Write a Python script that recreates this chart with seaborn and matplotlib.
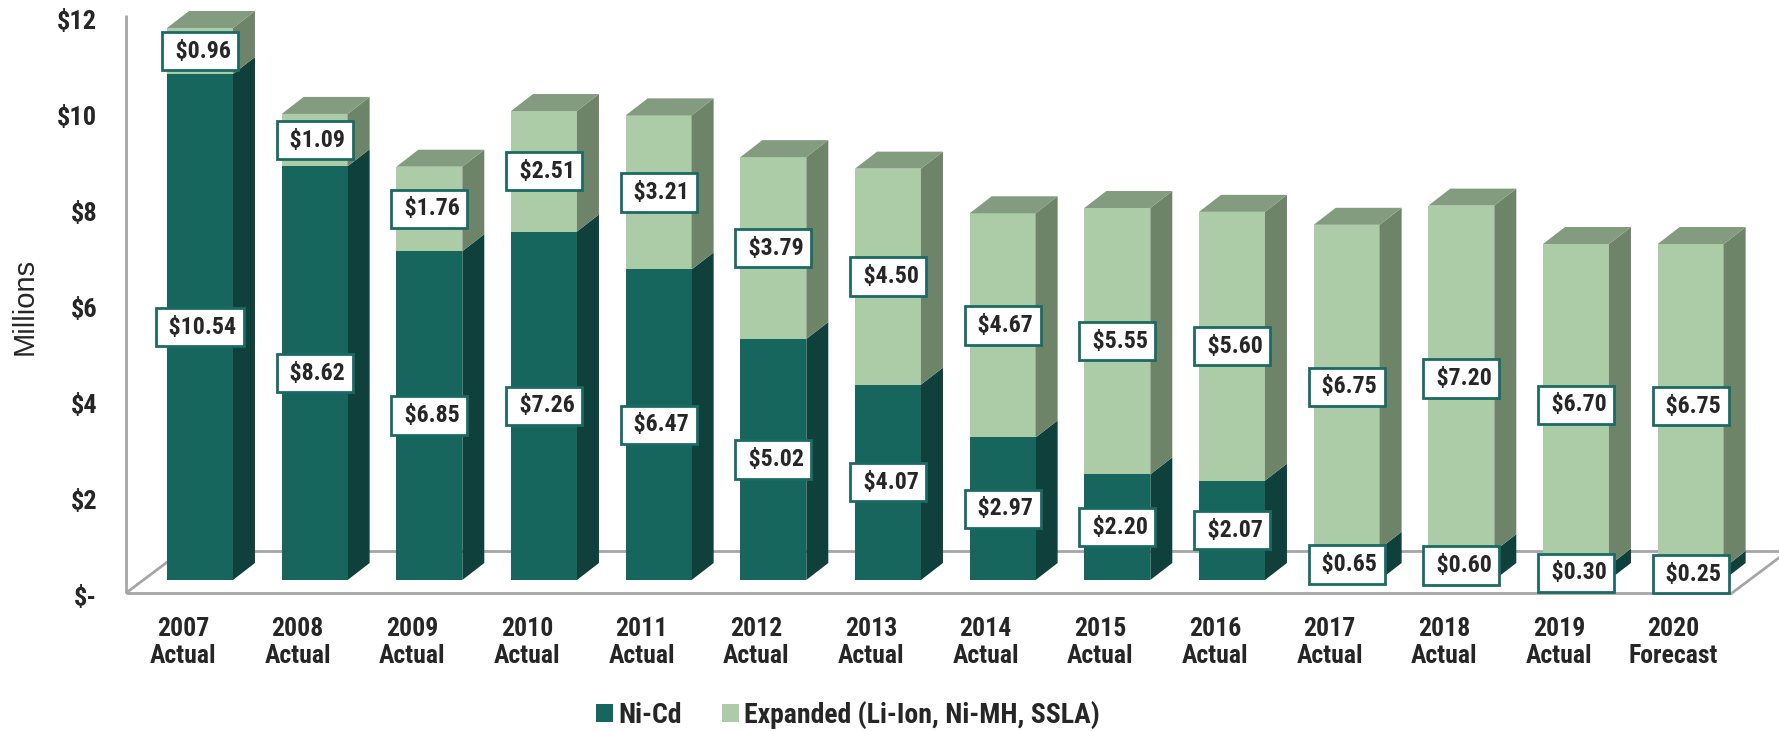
import numpy as np
import pandas as pd
import matplotlib
matplotlib.use("Agg")
import matplotlib.pyplot as plt
import seaborn as sns
from matplotlib.patches import Polygon, Patch
from matplotlib.lines import Line2D
from matplotlib.transforms import ScaledTranslation
from matplotlib import font_manager as fm

# ---------------- data ----------------
years = ["2007", "2008", "2009", "2010", "2011", "2012", "2013",
         "2014", "2015", "2016", "2017", "2018", "2019", "2020"]
kinds = ["Actual"] * 13 + ["Forecast"]
nicd = [10.54, 8.62, 6.85, 7.26, 6.47, 5.02, 4.07, 2.97, 2.20, 2.07, 0.65, 0.60, 0.30, 0.25]
expanded = [0.96, 1.09, 1.76, 2.51, 3.21, 3.79, 4.50, 4.67, 5.55, 5.60, 6.75, 7.20, 6.70, 6.75]
series_names = ["Ni-Cd", "Expanded (Li-Ion, Ni-MH, SSLA)"]
ytick_values = [0, 2, 4, 6, 8, 10, 12]
ytick_labels = ["$-", "$2", "$4", "$6", "$8", "$10", "$12"]
y_title = "Millions"

# ---------------- style ----------------
TEAL = "#17665E"
TEAL_SIDE = "#0F403B"
LIGHT = "#ABCCA7"
LIGHT_SIDE = "#6E8468"
LIGHT_TOP = "#839B7E"
BOX_EDGE = "#1B6B64"
FRAME = "#A6A6A6"

sns.set_theme(style="white")
plt.rcParams["font.family"] = ["Liberation Sans", "DejaVu Sans"]

# pick a narrow bold font if one is installed
ttf = fm.fontManager.ttflist
names = {f.name for f in ttf}
NARROW = None
STRETCH = "normal"
SCALE = 1.0
for cand in ["Liberation Sans Narrow", "Arial Narrow", "Roboto Condensed",
             "Noto Sans Condensed", "Open Sans Condensed"]:
    if cand in names:
        NARROW = cand
        break
if NARROW is None:
    for fam in ["Noto Sans", "Roboto", "Open Sans", "Liberation Sans"]:
        if any(f.name == fam and f.stretch in ("condensed", "semi-condensed", 500, 400, 300)
               and f.stretch != "normal" for f in ttf):
            NARROW = fam
            STRETCH = "condensed"
            break
if NARROW is None:
    NARROW = "Liberation Sans"
    SCALE = 0.88
NFAM = [NARROW, "DejaVu Sans"]

def nfont(size):
    return dict(family=NFAM, fontweight="bold", fontstretch=STRETCH, fontsize=size * SCALE)

categories = [f"{y}\n{k}" for y, k in zip(years, kinds)]
total = [a + b for a, b in zip(nicd, expanded)]
df = pd.DataFrame({"category": categories, "Ni-Cd": nicd, "Total": total})

W, H = 1779, 731
fig = plt.figure(figsize=(W / 100, H / 100), dpi=100)
ax = fig.add_axes([114 / W, 127 / H, 1634 / W, 600 / H])

BAR_W = 0.575
sns.barplot(data=df, x="category", y="Total", color=LIGHT, saturation=1, width=BAR_W,
            errorbar=None, linewidth=0, ax=ax, zorder=2)
sns.barplot(data=df, x="category", y="Ni-Cd", color=TEAL, saturation=1, width=BAR_W,
            errorbar=None, linewidth=0, ax=ax, zorder=3)

XMIN, XMAX, YMIN, YMAX = -0.75, 13.5, -0.5, 12.0
ax.set_xlim(XMIN, XMAX)
ax.set_ylim(YMIN, YMAX)

# pixel -> data conversion for the 3D depth
px_x = 1634 / (XMAX - XMIN)
px_y = 600 / (YMAX - YMIN)
DX, DY = 22 / px_x, 17 / px_y

n = len(categories)
total_patches = ax.patches[:n]
nicd_patches = ax.patches[n:2 * n]

for tp, v_n, v_t in zip(total_patches, nicd, total):
    xl = tp.get_x()
    xr = xl + tp.get_width()
    ax.add_patch(Polygon([(xr, 0), (xr + DX, DY), (xr + DX, v_n + DY), (xr, v_n)],
                         closed=True, fc=TEAL_SIDE, ec="none", zorder=2.5))
    ax.add_patch(Polygon([(xr, v_n), (xr + DX, v_n + DY), (xr + DX, v_t + DY), (xr, v_t)],
                         closed=True, fc=LIGHT_SIDE, ec="none", zorder=2.5))
    ax.add_patch(Polygon([(xl, v_t), (xl + DX, v_t + DY), (xr + DX, v_t + DY), (xr, v_t)],
                         closed=True, fc=LIGHT_TOP, ec="none", zorder=2.5))
    xc = xl + tp.get_width() / 2
    box = dict(boxstyle="square,pad=0.32", fc="white", ec=BOX_EDGE, lw=2)
    ax.text(xc, v_n / 2, f" ${v_n:.2f}", ha="center", va="center",
            bbox=box, zorder=10, **nfont(17.2))
    ax.text(xc, v_n + (v_t - v_n) / 2, f" ${v_t - v_n:.2f}", ha="center", va="center",
            bbox=box, zorder=10, **nfont(17.2))

# 3D floor and wall frame
front_y = -13 / px_y
back_y = front_y + 42 / px_y
fdx = 56 / px_x
left_x = XMIN + 12 / px_x
right_x = XMIN + (1732 - 114) / px_x
wall_top = 11.77
frame_kw = dict(color=FRAME, lw=2, solid_capstyle="butt", zorder=1, clip_on=False)
ax.add_line(Line2D([left_x, left_x], [front_y, wall_top], **frame_kw))
ax.add_line(Line2D([left_x, right_x], [front_y, front_y], **frame_kw))
ax.add_line(Line2D([left_x, left_x + fdx], [front_y, back_y], **frame_kw))
ax.add_line(Line2D([left_x + fdx, right_x + fdx], [back_y, back_y], **frame_kw))
ax.add_line(Line2D([right_x, right_x + fdx], [front_y, back_y], **frame_kw))

# axes cosmetics
for s in ax.spines.values():
    s.set_visible(False)
ax.set_yticks(ytick_values)
ax.set_yticklabels(ytick_labels)
ax.tick_params(axis="y", length=0, pad=12)
ax.tick_params(axis="x", length=0, pad=9)
for lab in ax.get_yticklabels():
    lab.set_fontproperties(fm.FontProperties(family=NFAM, weight="bold", stretch=STRETCH,
                                             size=19 * SCALE))
    lab.set_transform(lab.get_transform() + ScaledTranslation(0, -0.15, fig.dpi_scale_trans))
for lab in ax.get_xticklabels():
    lab.set_fontproperties(fm.FontProperties(family=NFAM, weight="bold", stretch=STRETCH,
                                             size=18.5 * SCALE))
    lab.set_linespacing(1.2)
    lab.set_transform(lab.get_transform() + ScaledTranslation(-0.17, 0, fig.dpi_scale_trans))
ax.set_xlabel("")
ax.set_ylabel("")
fig.text(25 / W, 1 - 306 / H, y_title, rotation=90, ha="center", va="center", fontsize=21)

handles = [Patch(fc=TEAL, ec="none"), Patch(fc=LIGHT, ec="none")]
fig.legend(handles, series_names, loc="center", bbox_to_anchor=(848 / W, 16 / H),
           ncol=2, frameon=False, handlelength=0.6, handleheight=0.6,
           handletextpad=0.2, columnspacing=1.45, borderpad=0,
           prop=fm.FontProperties(family=NFAM, weight="bold", stretch=STRETCH, size=20 * SCALE))

fig.savefig("out.png", dpi=100)
